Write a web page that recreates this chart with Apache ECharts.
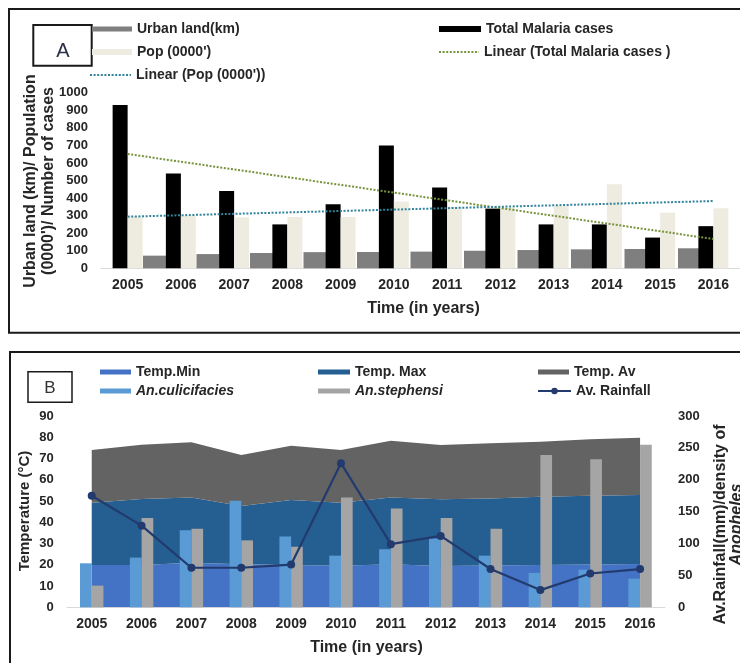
<!DOCTYPE html>
<html>
<head>
<meta charset="utf-8">
<script src="https://cdn.jsdelivr.net/npm/echarts@6/dist/echarts.min.js"></script>
<style>
  html, body { margin: 0; padding: 0; background: #fff; }
  #main { width: 740px; height: 663px; }
</style>
</head>
<body>
<div id="main"></div>
<script>
// data
const years = ['2005', '2006', '2007', '2008', '2009', '2010', '2011', '2012', '2013', '2014', '2015', '2016'];

// panel A
const urbanLand = [null, 72, 81, 87, 92, 93, 95, 100, 104, 108, 110, 114];
const malariaCases = [930, 540, 440, 250, 365, 700, 460, 340, 250, 250, 175, 240];
const population = [295, 300, 290, 292, 292, 380, 350, 345, 355, 478, 317, 342];
const malariaTrendEnds = [651, 167];   // trendline value at 2005 and 2016
const popTrendEnds = [294, 383];

// panel B
const tempMin = [19.9, 19.9, 21.0, 20.2, 19.9, 19.6, 20.2, 19.4, 19.7, 19.9, 20.1, 20.4];
const tempMax = [29.3, 31.1, 30.6, 27.5, 30.6, 29.6, 31.4, 31.4, 31.5, 32.1, 32.4, 32.4];
const tempAv = [24.8, 25.5, 26.0, 24.0, 25.5, 24.8, 26.7, 25.6, 26.0, 25.9, 26.6, 27.0];
const culicifacies = [69, 78, 121, 167, 111, 81, 91, 108, 81, 54, 59, 45];
const stephensi = [34, 140, 123, 105, 95, 172, 155, 140, 123, 239, 232, 255];
const rainfall = [175, 128, 62, 62, 67, 226, 99, 112, 60, 27, 53, 60];

const FONT = "'Liberation Sans', Arial, sans-serif";
const TXT = '#262626';

function ends(e) {
  return years.map((_, i) => i === 0 ? e[0] : (i === years.length - 1 ? e[1] : '-'));
}

function lg(name, x, yc, w, h, icon, italic, noSymbol) {
  const l = {
    data: [icon ? { name: name, icon: icon } : name],
    left: x, top: yc - 8, padding: 0,
    itemWidth: w, itemHeight: h, selectedMode: false,
    textStyle: { fontFamily: FONT, fontWeight: 'bold', fontSize: 14, lineHeight: 16,
      color: TXT, fontStyle: italic ? 'italic' : 'normal' }
  };
  if (noSymbol) l.itemStyle = { opacity: 0 };
  return l;
}

const catAxis = (gi, show) => ({
  type: 'category', gridIndex: gi, data: years, show: show,
  axisTick: { show: false },
  axisLine: { lineStyle: { color: '#d9d9d9', width: 1 } },
  axisLabel: { margin: 10, fontFamily: FONT, fontWeight: 'bold', fontSize: 14, color: TXT }
});
const valAxis = (gi, max, step, show, pos) => ({
  type: 'value', gridIndex: gi, min: 0, max: max, interval: step, show: show, position: pos || 'left',
  splitLine: { show: false }, axisLine: { show: false }, axisTick: { show: false },
  axisLabel: { margin: 13, fontFamily: FONT, fontWeight: 'bold', fontSize: 13, color: TXT,
    formatter: v => String(v) }
});

const chart = echarts.init(document.getElementById('main'));
chart.setOption({
  animation: false,
  grid: [
    { left: 101, top: 92.7, width: 642, height: 175.6 },
    { left: 74.25, top: 92.7, width: 642, height: 175.6 },
    { left: 66.8, top: 416, width: 598.2, height: 191.3 }
  ],
  xAxis: [catAxis(0, true), catAxis(1, false), catAxis(2, true)],
  yAxis: [
    valAxis(0, 1000, 100, true),
    valAxis(1, 1000, 100, false),
    valAxis(2, 90, 10, true),
    valAxis(2, 300, 50, true, 'right')
  ],
  legend: [
    lg('Urban land(km)', 92, 29, 40, 5, 'rect'),
    lg("Pop (0000')", 92, 52, 40, 6, 'rect'),
    lg("Linear (Pop (0000'))", 89, 75, 41, 10, null, false, true),
    lg('Total Malaria cases', 439, 29, 42, 6, 'rect'),
    lg('Linear (Total Malaria cases )', 438, 52, 40, 10, null, false, true),
    lg('Temp.Min', 100, 372, 31, 5, 'rect'),
    lg('An.culicifacies', 100, 391, 31, 5, 'rect', true),
    lg('Temp. Max', 318, 372, 32, 5, 'rect'),
    lg('An.stephensi', 318, 391, 32, 5, 'rect', true),
    lg('Temp. Av', 538, 372, 31, 5, 'rect'),
    lg('Av. Rainfall', 537, 391, 33, 8)
  ],
  series: [
    { name: 'Urban land(km)', type: 'bar', xAxisIndex: 1, yAxisIndex: 1, barWidth: 23,
      itemStyle: { color: '#7f7f7f' }, data: urbanLand },
    { name: 'Total Malaria cases', type: 'bar', xAxisIndex: 0, yAxisIndex: 0, barWidth: 15, barGap: '0%',
      itemStyle: { color: '#000000' }, data: malariaCases },
    { name: "Pop (0000')", type: 'bar', xAxisIndex: 0, yAxisIndex: 0, barWidth: 15, barGap: '0%',
      itemStyle: { color: '#eeece1' }, data: population },
    { name: 'Linear (Total Malaria cases )', type: 'line', xAxisIndex: 0, yAxisIndex: 0, z: 5,
      symbol: 'none', connectNulls: true, itemStyle: { color: '#77933c' },
      lineStyle: { color: '#77933c', width: 2, type: [2, 1.6] }, data: ends(malariaTrendEnds) },
    { name: "Linear (Pop (0000'))", type: 'line', xAxisIndex: 0, yAxisIndex: 0, z: 5,
      symbol: 'none', connectNulls: true, itemStyle: { color: '#31849b' },
      lineStyle: { color: '#31849b', width: 2, type: [2, 1.6] }, data: ends(popTrendEnds) },

    { name: 'Temp.Min', type: 'line', xAxisIndex: 2, yAxisIndex: 2, stack: 'temp', symbol: 'none',
      itemStyle: { color: '#4472c4' }, lineStyle: { width: 0 }, areaStyle: { color: '#4472c4', opacity: 1 }, data: tempMin },
    { name: 'Temp. Max', type: 'line', xAxisIndex: 2, yAxisIndex: 2, stack: 'temp', symbol: 'none',
      itemStyle: { color: '#255e91' }, lineStyle: { width: 0 }, areaStyle: { color: '#255e91', opacity: 1 }, data: tempMax },
    { name: 'Temp. Av', type: 'line', xAxisIndex: 2, yAxisIndex: 2, stack: 'temp', symbol: 'none',
      itemStyle: { color: '#636363' }, lineStyle: { width: 0 }, areaStyle: { color: '#636363', opacity: 1 }, data: tempAv },
    { name: 'An.culicifacies', type: 'bar', xAxisIndex: 2, yAxisIndex: 3, z: 4, barWidth: 11.7, barGap: '0%',
      itemStyle: { color: '#5b9bd5' }, data: culicifacies },
    { name: 'An.stephensi', type: 'bar', xAxisIndex: 2, yAxisIndex: 3, z: 4, barWidth: 11.7, barGap: '0%',
      itemStyle: { color: '#a5a5a5' }, data: stephensi },
    { name: 'Av. Rainfall', type: 'line', xAxisIndex: 2, yAxisIndex: 3, z: 6,
      symbol: 'circle', symbolSize: 8, itemStyle: { color: '#223a6e' },
      lineStyle: { color: '#223a6e', width: 2.2 }, data: rainfall }
  ],
  graphic: [
    { type: 'rect', shape: { x: 9, y: 9, width: 740, height: 323.7 },
      style: { fill: 'none', stroke: '#1a1a1a', lineWidth: 2 } },
    { type: 'rect', shape: { x: 10, y: 352, width: 740, height: 320 },
      style: { fill: 'none', stroke: '#1a1a1a', lineWidth: 2 } },
    { type: 'rect', shape: { x: 33.3, y: 25, width: 58.4, height: 40.7 },
      style: { fill: '#fff', stroke: '#1a1a1a', lineWidth: 2 } },
    { type: 'text', x: 63, y: 51,
      style: { text: 'A', fontFamily: FONT, fontSize: 20, fill: '#2b2f4a', align: 'center', verticalAlign: 'middle' } },
    { type: 'rect', shape: { x: 28, y: 371.7, width: 44, height: 30.6 },
      style: { fill: '#fff', stroke: '#1a1a1a', lineWidth: 1.5 } },
    { type: 'text', x: 50, y: 388,
      style: { text: 'B', fontFamily: FONT, fontSize: 17, fill: '#333', align: 'center', verticalAlign: 'middle' } },
    { type: 'text', x: 39.5, y: 181, rotation: Math.PI / 2,
      style: { text: "Urban land (km)/ Population\n(0000')/ Number of cases", fontFamily: FONT, fontWeight: 'bold',
        fontSize: 16, lineHeight: 18.5, fill: TXT, align: 'center', verticalAlign: 'middle' } },
    { type: 'text', x: 423.5, y: 309,
      style: { text: 'Time (in years)', fontFamily: FONT, fontWeight: 'bold', fontSize: 16,
        fill: TXT, align: 'center', verticalAlign: 'middle' } },
    { type: 'text', x: 25, y: 511, rotation: Math.PI / 2,
      style: { text: 'Temperature (°C)', fontFamily: FONT, fontWeight: 'bold', fontSize: 15,
        fill: TXT, align: 'center', verticalAlign: 'middle' } },
    { type: 'text', x: 728.5, y: 524.5, rotation: Math.PI / 2,
      style: { text: '{a|Av.Rainfall(mm)/density of}\n{b|Anopheles}', align: 'center', verticalAlign: 'middle',
        rich: {
          a: { fontFamily: FONT, fontWeight: 'bold', fontSize: 16, lineHeight: 16, fill: TXT, align: 'center' },
          b: { fontFamily: FONT, fontWeight: 'bold', fontStyle: 'italic', fontSize: 16, lineHeight: 16, fill: TXT, align: 'center' }
        } } },
    { type: 'text', x: 366.5, y: 648,
      style: { text: 'Time (in years)', fontFamily: FONT, fontWeight: 'bold', fontSize: 16,
        fill: TXT, align: 'center', verticalAlign: 'middle' } }
  ]
});
</script>
</body>
</html>
